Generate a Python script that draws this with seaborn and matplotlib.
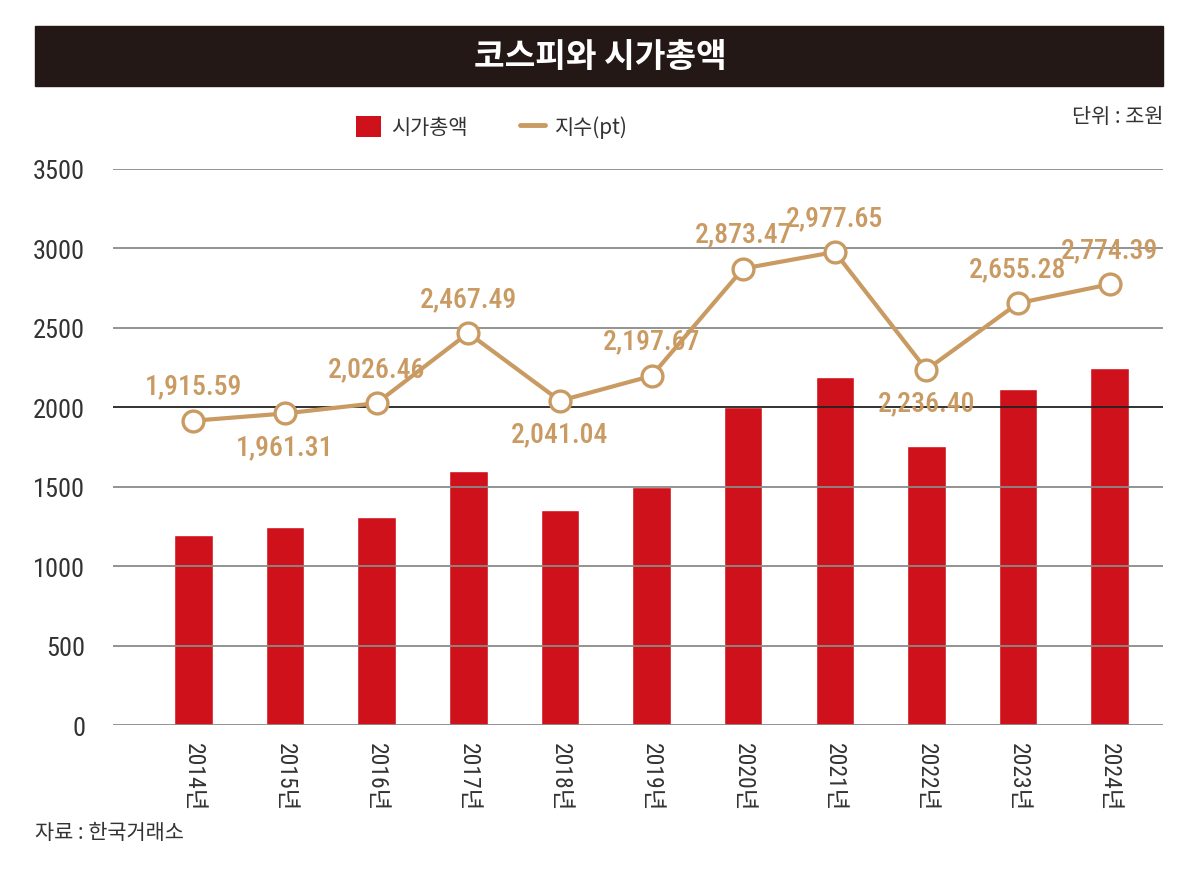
import matplotlib
matplotlib.use("Agg")
import matplotlib.pyplot as plt
import seaborn as sns
import pandas as pd
import numpy as np
from matplotlib.patches import Patch, Rectangle
from matplotlib.lines import Line2D
from matplotlib import font_manager as fm

years = ["2014년", "2015년", "2016년", "2017년", "2018년", "2019년",
         "2020년", "2021년", "2022년", "2023년", "2024년"]
market_cap = [1196, 1246, 1309, 1598, 1353, 1498, 2001, 2190, 1756, 2114, 2247]
kospi = [1915.59, 1961.31, 2026.46, 2467.49, 2041.04, 2197.67,
         2873.47, 2977.65, 2236.40, 2655.28, 2774.39]
label_above = [True, False, True, True, False, True, True, True, False, True, True]
yticks = [0, 500, 1000, 1500, 2000, 2500, 3000, 3500]

sns.set_theme(style="white")
plt.rcParams['font.family'] = ['Noto Sans CJK KR', 'DejaVu Sans']

avail = {f.name for f in fm.fontManager.ttflist}
narrow = [f for f in ['Roboto Condensed', 'Liberation Sans Narrow', 'Roboto'] if f in avail]

RED = "#cf111b"
TAN = "#c99a62"
TXT = "#333333"
NARROW = narrow[:1] + ['Noto Sans CJK KR', 'DejaVu Sans']
cond = NARROW[0] in ('Roboto Condensed', 'Liberation Sans Narrow')

df = pd.DataFrame({"year": years, "cap": market_cap, "idx": kospi})

fig = plt.figure(figsize=(12, 8.79), dpi=100)
ax = fig.add_axes([0.094, 0.174, 0.875, 0.6326])

for t in yticks:
    ax.axhline(t, color="#222222" if t == 2000 else "#8a8a8a", lw=1.3, zorder=0)

sns.barplot(data=df, x="year", y="cap", color=RED, width=0.42, ax=ax,
            saturation=1, zorder=2)
sns.pointplot(data=df, x="year", y="idx", color=TAN, ax=ax, markers="o",
              markersize=15, linewidth=3, markerfacecolor="white",
              markeredgecolor=TAN, markeredgewidth=2.4)
for ln in ax.lines:
    ln.set_zorder(4)

for i, (v, up) in enumerate(zip(kospi, label_above)):
    ax.annotate(f"{v:,.2f}", (i, v), xytext=(0, 25 if up else -24),
                textcoords="offset points", ha="center",
                va="center", color=TAN, fontsize=20 if cond else 17,
                fontweight="bold" if not cond else "medium",
                family=NARROW, annotation_clip=False, zorder=5)

ax.set_xlim(-0.88, 10.58)
ax.set_ylim(0, 3500)
ax.set_yticks(yticks)
ax.set_yticklabels([str(t) for t in yticks], family=NARROW,
                   fontsize=19 if cond else 17, color=TXT)
ax.set_xticks(range(len(years)))
ax.set_xticklabels(years, rotation=-90, family=NARROW, fontsize=17 if cond else 16,
                   color=TXT, va="top", ha="center")
ax.tick_params(axis="y", length=0, pad=20)
ax.tick_params(axis="x", length=0, pad=12)
ax.set_xlabel("")
ax.set_ylabel("")
for s in ax.spines.values():
    s.set_visible(False)

fig.patches.append(Rectangle((35/1200, 1-87/879), (1163-35)/1200, 60/879,
                             transform=fig.transFigure, color="#231815", zorder=0))
fig.text(0.5, 1-57/879, "코스피와 시가총액", ha="center", va="center",
         color="white", fontsize=24, fontweight="bold")

handles = [Patch(facecolor=RED, edgecolor="none"),
           Line2D([0], [0], color=TAN, lw=3.5)]
fig.legend(handles, ["시가총액", "지수(pt)"], loc="center",
           bbox_to_anchor=(492/1200, 1-128/879), ncol=2, frameon=False,
           fontsize=15, handlelength=1.2, handleheight=1.2, columnspacing=2.5,
           handletextpad=0.5, labelcolor=TXT)

fig.text(1163/1200, 1-117/879, "단위 : 조원", ha="right", va="center",
         fontsize=15, color=TXT)
fig.text(35/1200, 1-833/879, "자료 : 한국거래소", ha="left", va="center",
         fontsize=15, color=TXT)

fig.savefig("out.png", dpi=100, facecolor="white")
